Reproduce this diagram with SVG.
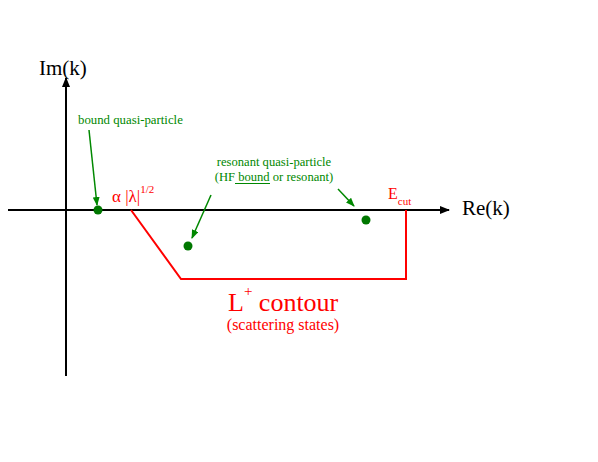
<svg xmlns="http://www.w3.org/2000/svg" width="598" height="462" viewBox="0 0 598 462">
<style>
.ax{stroke:#000;stroke-width:2;fill:none}
.red{stroke:#f00;stroke-width:2;fill:none}
.gl{stroke:#080;stroke-width:1.5;fill:none}
.g{fill:#080}
.r{fill:#f00}
</style>
<defs>
<marker id="ah" markerWidth="10" markerHeight="8" refX="9" refY="4" orient="auto" markerUnits="userSpaceOnUse">
<path d="M0,0 L10,4 L0,8 Z" fill="#000"/>
</marker>
<marker id="gh" markerWidth="9" markerHeight="7" refX="8" refY="3.5" orient="auto" markerUnits="userSpaceOnUse">
<path d="M0,0 L9,3.5 L0,7 Z" fill="#080"/>
</marker>
</defs>
<g font-family="Liberation Serif, DejaVu Serif, serif">
<g id="axes">
<line class="ax" x1="66" y1="376" x2="66" y2="78" marker-end="url(#ah)"/>
<line class="ax" x1="8" y1="210" x2="449" y2="210" marker-end="url(#ah)"/>
<text x="39" y="75" font-size="21">Im(k)</text>
<text x="462" y="215" font-size="21">Re(k)</text>
</g>
<g id="contour">
<polyline class="red" points="131,210 181,279 406,279 406,210"/>
<text class="r" x="112" y="202" font-size="17">α |λ|<tspan dy="-9" font-size="11">1/2</tspan></text>
<text class="r" x="388" y="199" font-size="16">E<tspan dy="6" font-size="11">cut</tspan></text>
<text class="r" x="228" y="311" font-size="26">L<tspan dy="-15" font-size="15">+</tspan><tspan dy="15"> contour</tspan></text>
<text class="r" x="283" y="330" font-size="16" text-anchor="middle">(scattering states)</text>
</g>
<g id="bound">
<circle cx="98" cy="210" r="4.5" fill="#070"/>
<text class="g" x="78" y="124" font-size="12.8">bound quasi-particle</text>
</g>
<g id="resonant">
<circle cx="188" cy="246" r="4.5" fill="#070"/>
<circle cx="366" cy="220" r="4.5" fill="#070"/>
<text class="g" x="274" y="166" font-size="12.6" text-anchor="middle">resonant quasi-particle</text>
<text class="g" x="274" y="181" font-size="12.6" text-anchor="middle">(HF bound or resonant)</text>
<line x1="235" y1="183.5" x2="270" y2="183.5" stroke="#080" stroke-width="1"/>
</g>
<g id="connectors">
<line class="gl" x1="89" y1="130" x2="97" y2="205" marker-end="url(#gh)"/>
<line class="gl" x1="211" y1="195" x2="192" y2="238" marker-end="url(#gh)"/>
<line class="gl" x1="338" y1="189" x2="354" y2="206" marker-end="url(#gh)"/>
</g>
</g>
</svg>
